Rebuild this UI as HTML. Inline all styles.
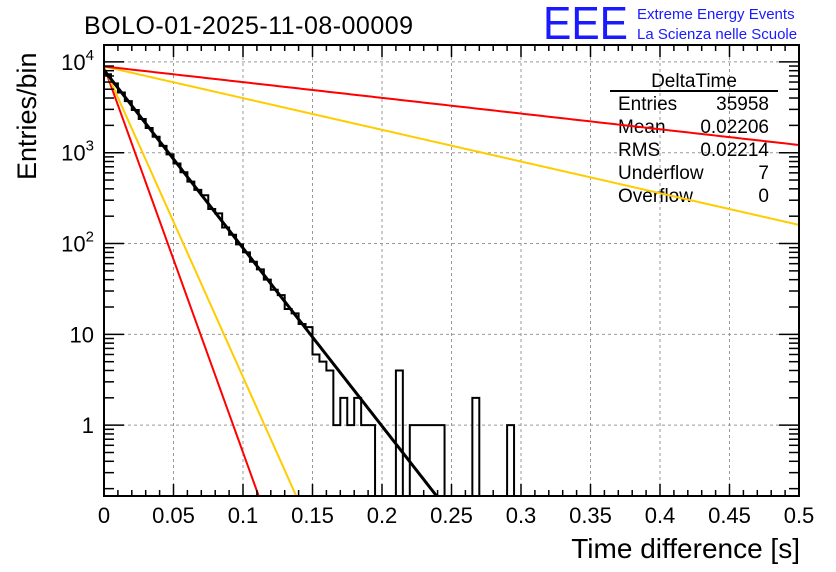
<!DOCTYPE html>
<html><head><meta charset="utf-8"><style>
html,body{margin:0;background:#fff;width:836px;height:572px;overflow:hidden}
svg{display:block;font-family:"Liberation Sans",sans-serif}
</style></head><body>
<svg id="c" width="836" height="572" xmlns="http://www.w3.org/2000/svg">
<defs><clipPath id="pc"><rect x="104" y="45" width="695" height="451"/></clipPath></defs>
<rect width="836" height="572" fill="#fff"/>
<g id="grid"></g>
<g id="stats" font-size="19">
<text x="694" y="87" text-anchor="middle">DeltaTime</text>
<line x1="610" y1="91" x2="778" y2="91" stroke="#000" stroke-width="2"/>
<text x="618" y="110">Entries</text><text x="769" y="110" text-anchor="end">35958</text>
<text x="618" y="133">Mean</text><text x="769" y="133" text-anchor="end">0.02206</text>
<text x="618" y="156">RMS</text><text x="769" y="156" text-anchor="end">0.02214</text>
<text x="618" y="179">Underflow</text><text x="769" y="179" text-anchor="end">7</text>
<text x="618" y="202">Overflow</text><text x="769" y="202" text-anchor="end">0</text>
</g>
<g id="marks"></g>
<g id="axes"></g>
<text x="84" y="34" font-size="25" textLength="329">BOLO-01-2025-11-08-00009</text>
<text x="543" y="39" font-size="46" fill="#1a1aff" textLength="85" lengthAdjust="spacingAndGlyphs">EEE</text>
<text x="637" y="19" font-size="15" fill="#1a1aff">Extreme Energy Events</text>
<text x="637" y="39" font-size="15" fill="#1a1aff">La Scienza nelle Scuole</text>
<text transform="translate(36,180) rotate(-90)" font-size="27">Entries/bin</text>
<text x="800" y="558" font-size="28" text-anchor="end">Time difference [s]</text>
</svg>
<script>
const binWidth = 0.005;
const counts = [7300,5800,4600,3700,2950,2350,1870,1500,1190,960,760,610,480,390,340,240,215,150,125,98,80,63,52,40,31,27,19,17,13,12,6,5,4,1,2,1,2,1,1,0,0,0,4,0,1,1,1,1,1,0,0,0,0,2,0,0,0,0,1,0];
const curveNames = ['red-steep','yellow-steep','black-fit','yellow-shallow','red-shallow'];
const curveColors = ['#f00','#fc0','#000','#fc0','#f00'];
const curveLog10Start = [3.95,3.95,3.91,3.95,3.95];
const curveSlope = [42.5,34.2,19.6,3.49,1.73];
const xTicks = [0,0.05,0.1,0.15,0.2,0.25,0.3,0.35,0.4,0.45,0.5];
const xTickLabels = ['0','0.05','0.1','0.15','0.2','0.25','0.3','0.35','0.4','0.45','0.5'];
const yTicks = [1,10,100,1000,10000];

const L=104,R=799,T=45,B=496,X0=0,X1=0.5,LY0=-0.78,LY1=4.186;
const sx=v=>L+(v-X0)/(X1-X0)*(R-L);
const sy=v=>{const l=Math.log10(Math.max(v,1e-9));return B-(l-LY0)/(LY1-LY0)*(B-T);};
const syl=l=>B-(l-LY0)/(LY1-LY0)*(B-T);
const NS='http://www.w3.org/2000/svg';
function mk(t,a,p){const e=document.createElementNS(NS,t);for(const k in a)e.setAttribute(k,a[k]);p.appendChild(e);return e;}
const grid=document.getElementById('grid'),marks=document.getElementById('marks'),axes=document.getElementById('axes');

xTicks.forEach(v=>{if(v>X0&&v<X1){const g=mk('line',{x1:sx(v),x2:sx(v),y1:T,y2:B,stroke:'#999','stroke-dasharray':'3,3'},grid);

}});
yTicks.forEach(v=>{const g=mk('line',{x1:L,x2:R,y1:sy(v),y2:sy(v),stroke:'#999','stroke-dasharray':'3,3'},grid);

});

let d='';
counts.forEach((c,i)=>{const x0=sx(i*binWidth),x1=sx((i+1)*binWidth);let y=c>0?Math.min(sy(c),B):B;
 if(i===0)d+=`M${x0},${y}`;else d+=`L${x0},${y}`;d+=`L${x1},${y}`;});
const h=mk('path',{d:d,fill:'none',stroke:'#000','stroke-width':2},marks);



curveNames.forEach((n,k)=>{const pts=[];for(let i=0;i<=200;i++){const x=X0+(X1-X0)*i/200;const l=curveLog10Start[k]-curveSlope[k]*x;pts.push(sx(x)+','+syl(l));}
 const p=mk('polyline',{points:pts.join(' '),fill:'none',stroke:curveColors[k],'stroke-width':k===2?3:2,'clip-path':'url(#pc)'},marks);
 
 });

const f=mk('rect',{x:L,y:T,width:R-L,height:B-T,fill:'none',stroke:'#000','stroke-width':2},axes);


for(let i=0;i<=50;i++){const v=i*0.01;const x=sx(v);const len=(i%5===0)?12:6;
 mk('line',{x1:x,x2:x,y1:B,y2:B-len,stroke:'#000','stroke-width':1.5},axes);
 mk('line',{x1:x,x2:x,y1:T,y2:T+len,stroke:'#000','stroke-width':1.5},axes);}
xTicks.forEach((v,i)=>{const t=mk('text',{x:sx(v),y:523,'font-size':22,'text-anchor':'middle'},axes);t.textContent=xTickLabels[i];
 
 });
for(let e=-1;e<=4;e++)for(let m=1;m<=9;m++){const v=m*Math.pow(10,e);const y=sy(v);if(y<T||y>B)continue;const len=m===1?20:10;
 mk('line',{x1:L,x2:L+len,y1:y,y2:y,stroke:'#000','stroke-width':1.5},axes);
 mk('line',{x1:R,x2:R-len,y1:y,y2:y,stroke:'#000','stroke-width':1.5},axes);}
yTicks.forEach(v=>{const y=sy(v)+8;const t=mk('text',{x:94,y:y,'font-size':22,'text-anchor':'end'},axes);
 if(v>=100){const e=Math.round(Math.log10(v));t.innerHTML='10<tspan dy="-10" font-size="15">'+e+'</tspan>';}
 else{t.textContent=String(v);}
 
 });
</script>
</body></html>
